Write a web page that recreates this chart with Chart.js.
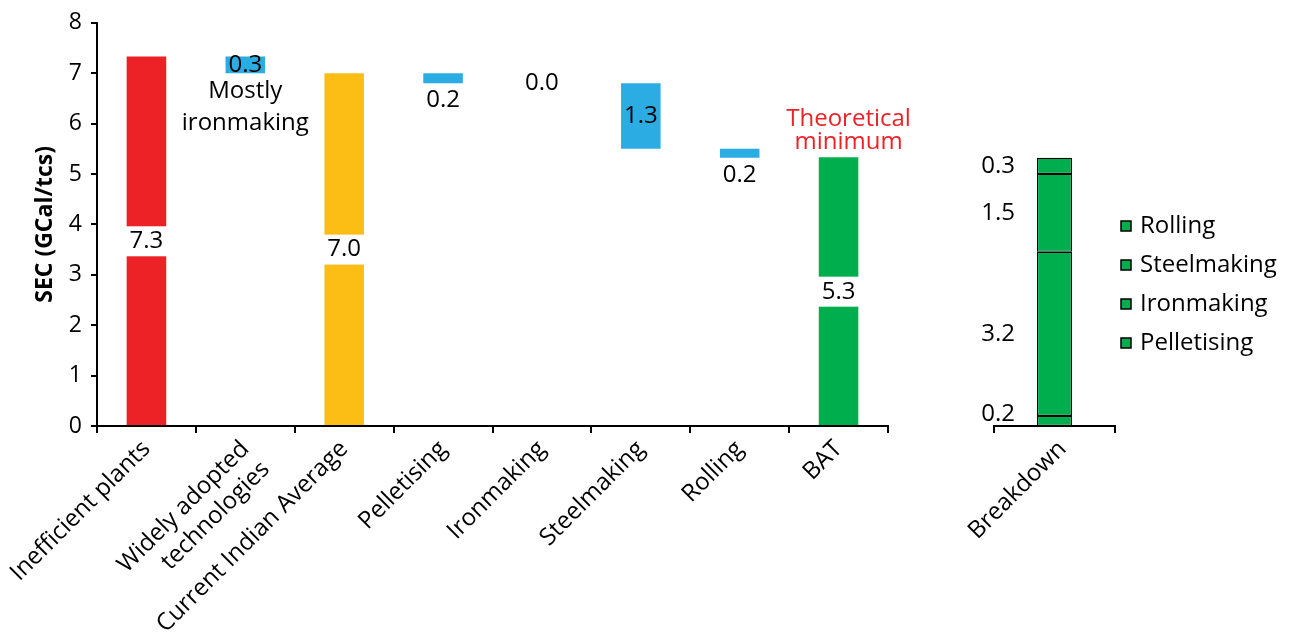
<!DOCTYPE html>
<html>
<head>
<meta charset="utf-8">
<title>SEC waterfall</title>
<script src="https://cdn.jsdelivr.net/npm/chart.js@4.4.1/dist/chart.umd.min.js"></script>
<style>
    html, body { margin: 0; padding: 0; background: #fff; }
    #wrap { position: relative; width: 1294px; height: 637px; overflow: hidden; }
    #mainChart { position: absolute; left: 0; top: 0; }
    #breakChart { position: absolute; left: 900px; top: 0; }
</style>
</head>
<body>
<div id="wrap">
    <canvas id="mainChart" width="960" height="637"></canvas>
    <canvas id="breakChart" width="394" height="637"></canvas>
</div>
<script>
// Waterfall steps (GCal/tcs)
const categories = ['Inefficient plants', ['Widely adopted', 'technologies'], 'Current Indian Average',
    'Pelletising', 'Ironmaking', 'Steelmaking', 'Rolling', 'BAT'];
const barBottom = [0, 7.0, 0, 6.8, 6.8, 5.5, 5.32, 0];
const barTop = [7.33, 7.33, 7.0, 7.0, 6.8, 6.8, 5.5, 5.33];
const barColors = ['#EC2227', '#2BACE2', '#FCBE14', '#2BACE2', '#2BACE2', '#2BACE2', '#2BACE2', '#00AE4D'];

// BAT breakdown (bottom to top)
const breakdownCategory = ['Breakdown'];
const breakdownSeries = ['Pelletising', 'Ironmaking', 'Steelmaking', 'Rolling'];
const breakdownValues = [0.2, 3.24, 1.54, 0.32];

const yTicks = [0, 1, 2, 3, 4, 5, 6, 7, 8];

const FONT = "'Open Sans', 'Noto Sans', sans-serif";
Chart.defaults.font.family = FONT;
Chart.defaults.color = '#000';

// Labels and notes on the waterfall
const waterfallLabels = {
    id: 'waterfallLabels',
    afterDatasetsDraw(chart) {
        const ctx = chart.ctx;
        const y = chart.scales.y;
        const bars = chart.getDatasetMeta(0).data;
        ctx.save();
        ctx.textAlign = 'center';
        ctx.textBaseline = 'middle';
        ctx.font = '24px ' + FONT;
        bars.forEach((bar, i) => {
            const lo = barBottom[i], hi = barTop[i];
            const txt = (hi - lo).toFixed(1);
            let cy;
            if (lo === 0) {
                // totals: label sits in a white gap in the middle of the bar
                cy = y.getPixelForValue(hi / 2);
                ctx.fillStyle = '#fff';
                ctx.fillRect(bar.x - bar.width / 2 - 1, cy - 15, bar.width + 2, 30);
            } else if (i === 3 || i === 6) {
                cy = y.getPixelForValue(lo) + 17;
            } else {
                cy = y.getPixelForValue((lo + hi) / 2);
            }
            ctx.fillStyle = '#000';
            ctx.fillText(txt, bar.x, cy);
        });

        const wa = bars[1];
        const waBottom = y.getPixelForValue(barBottom[1]);
        ctx.fillText('Mostly', wa.x, waBottom + 18);
        ctx.fillText('ironmaking', wa.x, waBottom + 50);

        const bat = bars[7];
        const batTop = y.getPixelForValue(barTop[7]);
        ctx.fillStyle = '#EC2227';
        ctx.fillText('Theoretical', bat.x + 10, batTop - 38);
        ctx.fillText('minimum', bat.x + 10, batTop - 15);
        ctx.restore();
    }
};

new Chart(document.getElementById('mainChart'), {
    type: 'bar',
    data: {
        labels: categories,
        datasets: [{
            data: barBottom.map((b, i) => [b, barTop[i]]),
            backgroundColor: barColors,
            borderWidth: 0,
            barPercentage: 0.4,
            categoryPercentage: 1.0
        }]
    },
    options: {
        responsive: false,
        animation: false,
        layout: { padding: { top: 21, right: 72, left: 0, bottom: 0 } },
        plugins: {
            legend: { display: false },
            tooltip: { enabled: false }
        },
        scales: {
            x: {
                afterFit: function(scale) { scale.height = 211; },
                border: { display: true, color: '#000', width: 2 },
                grid: { offset: true, drawOnChartArea: false, drawTicks: true, tickLength: 7, color: '#000', lineWidth: 2 },
                ticks: {
                    autoSkip: false,
                    maxRotation: 45,
                    minRotation: 45,
                    padding: 2,
                    font: { size: 24 },
                    color: '#000'
                }
            },
            y: {
                min: 0,
                max: 8,
                afterFit: function(scale) { scale.width = 97; },
                afterBuildTicks: function(scale) { scale.ticks = yTicks.map(v => ({ value: v })); },
                border: { display: true, color: '#000', width: 2 },
                grid: { drawOnChartArea: false, drawTicks: true, tickLength: 6, color: '#000', lineWidth: 2 },
                ticks: { padding: 9, font: { size: 23 }, color: '#000' },
                title: {
                    display: true,
                    text: 'SEC (GCal/tcs)',
                    font: { size: 23, weight: 'bold' },
                    color: '#000',
                    padding: { top: 32, bottom: 0 }
                }
            }
        }
    },
    plugins: [waterfallLabels]
});

// Value labels to the left of the breakdown bar, and its legend on the right
const breakdownLabels = {
    id: 'breakdownLabels',
    afterDatasetsDraw(chart) {
        const ctx = chart.ctx;
        const y = chart.scales.y;
        ctx.save();
        ctx.font = '24px ' + FONT;
        ctx.fillStyle = '#000';
        ctx.textAlign = 'right';
        ctx.textBaseline = 'middle';
        let base = 0;
        breakdownValues.forEach((v, i) => {
            const bar = chart.getDatasetMeta(i).data[0];
            let cy = y.getPixelForValue(base + v / 2);
            cy = Math.min(cy, y.bottom - 12);
            ctx.fillText(v.toFixed(1), bar.x - bar.width / 2 - 22, cy);
            base += v;
        });

        // legend, top entry = last series
        const x0 = chart.chartArea.right + 6;
        const sets = chart.data.datasets.slice().reverse();
        ctx.textAlign = 'left';
        sets.forEach((ds, i) => {
            const cy = 226 + i * 39;
            ctx.fillStyle = ds.backgroundColor;
            ctx.fillRect(x0, cy - 5, 10, 10);
            ctx.strokeStyle = '#000';
            ctx.lineWidth = 1.5;
            ctx.strokeRect(x0, cy - 5, 10, 10);
            ctx.fillStyle = '#000';
            ctx.fillText(ds.label, x0 + 19, cy);
        });
        ctx.restore();
    }
};

new Chart(document.getElementById('breakChart'), {
    type: 'bar',
    data: {
        labels: breakdownCategory,
        datasets: breakdownSeries.map((name, i) => ({
            label: name,
            data: [breakdownValues[i]],
            backgroundColor: '#00AE4D',
            borderColor: '#000',
            borderWidth: 1.2,
            borderSkipped: false,
            barPercentage: 0.29,
            categoryPercentage: 1.0
        }))
    },
    options: {
        responsive: false,
        animation: false,
        layout: { padding: { top: 21, right: 179, left: 94, bottom: 0 } },
        plugins: {
            tooltip: { enabled: false },
            legend: { display: false }
        },
        scales: {
            x: {
                stacked: true,
                afterFit: function(scale) { scale.height = 211; },
                border: { display: true, color: '#000', width: 2 },
                grid: { offset: true, drawOnChartArea: false, drawTicks: true, tickLength: 7, color: '#000', lineWidth: 2 },
                ticks: {
                    maxRotation: 45,
                    minRotation: 45,
                    padding: 2,
                    labelOffset: 8,
                    font: { size: 24 },
                    color: '#000'
                }
            },
            y: {
                stacked: true,
                display: false,
                min: 0,
                max: 8
            }
        }
    },
    plugins: [breakdownLabels]
});
</script>
</body>
</html>
